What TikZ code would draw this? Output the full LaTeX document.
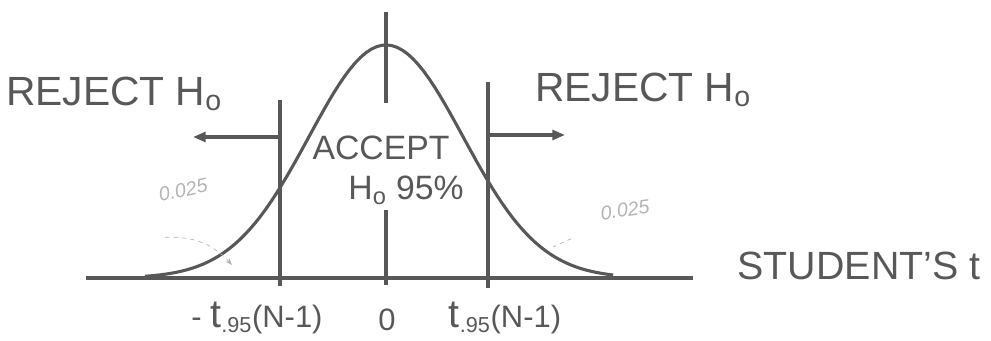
\documentclass[tikz,border=0pt]{standalone}
\usepackage{fontspec}
\setmainfont{Liberation Sans}
\usetikzlibrary{arrows.meta}
\definecolor{ink}{RGB}{88,88,88}
\definecolor{pencil}{RGB}{180,180,180}
\newcommand{\bigt}{{\fontsize{28}{28}\selectfont t}}

\begin{document}
\begin{tikzpicture}[x=0.025cm, y=-0.025cm,
  hand/.style={text=ink, inner sep=0pt, font=\fontsize{#1}{#1}\selectfont},
  faint/.style={text=pencil, inner sep=0pt, font=\fontsize{#1}{#1}\selectfont\itshape},
  bar/.style={draw=ink, line width=2.4pt},
  curve/.style={draw=ink, line width=2.2pt, line join=round},
  side/.style={draw=ink, line width=2.2pt, -{Triangle[length=9pt, width=7pt]}},
  note/.style={draw=pencil, line width=0.5pt, dashed}]
  \useasboundingbox (0,0) rectangle (991,341);
  % axis and the bell
  \coordinate (axL) at (86,278);
  \coordinate (axR) at (693,278);
  \draw[bar, line width=3pt] (axL) -- (axR);
  \draw[curve] plot[domain=-3.13:2.95, samples=90]
    ({386+77*\x},{278-233*exp(-(\x)*(\x)/2)});
  % critical values and the centre mark
  \coordinate (cLtop) at (280,100);
  \coordinate (cLbot) at (280,286);
  \coordinate (cRtop) at (488,82);
  \coordinate (cRbot) at (488,288);
  \coordinate (mTop) at (386,12);
  \coordinate (mA) at (386,103);
  \coordinate (mB) at (386,210);
  \coordinate (mBot) at (386,285);
  \draw[bar] (cLtop) -- (cLbot);
  \draw[bar] (cRtop) -- (cRbot);
  \draw[bar] (mTop) -- (mA);
  \draw[bar] (mB) -- (mBot);
  % regions
  \coordinate (cLarm) at (280,137);
  \coordinate (arL) at (193,137);
  \coordinate (cRarm) at (488,135);
  \coordinate (arR) at (565,135);
  \draw[side] (cLarm) -- (arL);
  \draw[side] (cRarm) -- (arR);
  \node[hand=29] (rejL) at (114,94) {REJECT H\textsubscript{o}};
  \node[hand=29] (rejR) at (643,90) {REJECT H\textsubscript{o}};
  \node[hand=24] (acc) at (381,148) {ACCEPT};
  \node[hand=24] (accH) at (406,190) {H\textsubscript{o} 95\%};
  \node[hand=28] (stu) at (859,266) {STUDENT'S t};
  % tick labels
  \node[hand=22] (tLo) at (257,318) {- \bigt\textsubscript{.95}(N-1)};
  \node[hand=22] (zero) at (387,320) {0};
  \node[hand=22] (tHi) at (505,318) {\bigt\textsubscript{.95}(N-1)};
  % pencil notes
  \node[faint=14, rotate=12] (nL) at (183,190) {0.025};
  \node[faint=14, rotate=8] (nR) at (625,210) {0.025};
  \coordinate (tipL) at (232,265);
  \coordinate (tipR) at (553,247);
  \draw[note, -{Stealth[length=5pt]}] (nL.south west) ++(5,35) to[bend left=25] (tipL);
  \draw[note] (nR.south west) ++(-30,18) -- (tipR);
\end{tikzpicture}
\end{document}
